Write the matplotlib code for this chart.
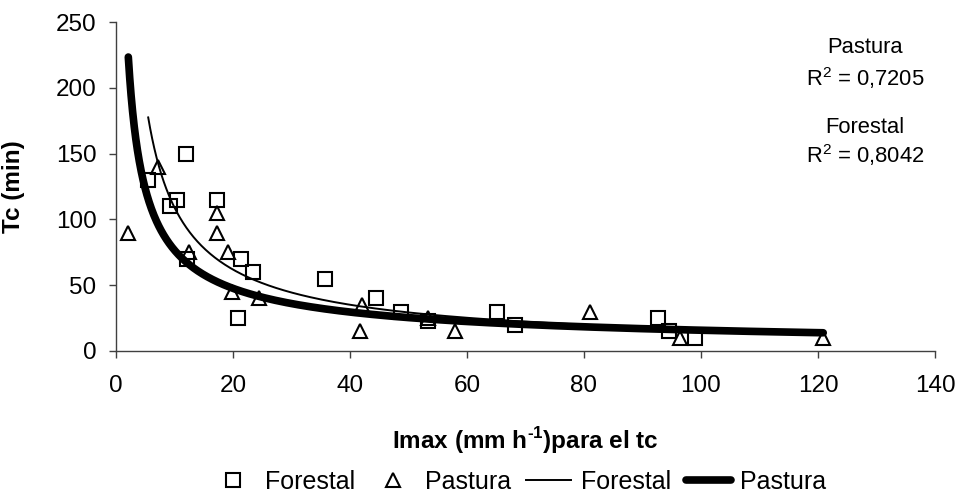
import numpy as np
import matplotlib
matplotlib.use("Agg")
import matplotlib.pyplot as plt

'''
######################### Data read off the chart #########################
'''
# Forestal catchments: Imax (mm/h) vs Tc (min)
forestal_x = [5.5, 9.3, 10.4, 12.0, 12.2, 17.3, 20.8, 21.4, 23.5, 35.7, 44.4, 48.8, 53.4, 65.1, 68.2, 92.7, 94.5, 99.0]
forestal_y = [130, 110, 115, 150, 70, 115, 25, 70, 60, 55, 40, 30, 23, 30, 20, 25, 15, 10]

# Pastura catchments
pastura_x = [2.1, 7.2, 12.4, 17.2, 17.2, 19.1, 19.9, 24.5, 41.7, 42.0, 53.4, 58.0, 81.1, 96.4, 120.9]
pastura_y = [90, 140, 75, 105, 90, 75, 45, 40, 15, 35, 25, 15, 30, 10, 10]

r2_labels = ["Pastura", "R$^2$ = 0,7205", "Forestal", "R$^2$ = 0,8042"]

plt.rcParams['font.family'] = ['Liberation Sans', 'DejaVu Sans']
plt.rcParams['mathtext.fontset'] = 'custom'
plt.rcParams['mathtext.rm'] = 'Liberation Sans'
plt.rcParams['mathtext.bf'] = 'Liberation Sans:bold'


def power_fit(x, y):
    # same as an Excel power trendline: linear fit in log-log space
    b, ln_a = np.polyfit(np.log(x), np.log(y), 1)
    xs = np.geomspace(min(x), max(x), 300)
    return xs, np.exp(ln_a) * xs ** b


'''
######################### Plot #########################
'''
fig = plt.figure(figsize=(9.55, 4.97), dpi=100)
ax = fig.add_axes([0.1215, 0.2938, 0.8575, 0.6619])

ax.plot(forestal_x, forestal_y, ls='none', marker='s', ms=9.5, mfc='none', mec='black', mew=1.5, label='Forestal')
ax.plot(pastura_x, pastura_y, ls='none', marker='^', ms=10.5, mfc='none', mec='black', mew=1.5, label='Pastura')

fx, fy = power_fit(forestal_x, forestal_y)
px, py = power_fit(pastura_x, pastura_y)
ax.plot(fx, fy, color='black', lw=1.4, label='Forestal')
ax.plot(px, py, color='black', lw=5.5, solid_capstyle='round', label='Pastura')

ax.set_xlim(0, 140)
ax.set_ylim(0, 250)
ax.set_xticks(np.arange(0, 141, 20))
ax.set_yticks(np.arange(0, 251, 50))

for side in ['top', 'right']:
    ax.spines[side].set_visible(False)
for side in ['left', 'bottom']:
    ax.spines[side].set_color('#404040')
    ax.spines[side].set_linewidth(1.0)

ax.tick_params(axis='both', direction='out', length=5, width=1, color='#404040', labelsize=17.5)
ax.tick_params(axis='x', pad=12)
ax.tick_params(axis='y', pad=9)

ax.set_ylabel('Tc (min)', fontsize=17.5, fontweight='bold')
ax.yaxis.set_label_coords(-0.111, 0.5)
# hyphen (U+2010) so the exponent reads "-1" like the original, not a long minus
ax.set_xlabel('Imax (mm h$^{\\mathbf{\u20101}}$)para el tc', fontsize=17.5, fontweight='bold')
ax.xaxis.set_label_coords(0.5, -0.225)

# R2 annotations top right
ys = [0.905, 0.843, 0.744, 0.688]
for txt, yy in zip(r2_labels, ys):
    fig.text(0.906, yy, txt, ha='center', va='center', fontsize=15.8)

fig.legend(loc='center', bbox_to_anchor=(0.543, 0.031), ncol=4, frameon=False, fontsize=18,
           handlelength=1.8, handletextpad=0.38, columnspacing=0.6, borderpad=0)

fig.savefig('out.png', dpi=100)
